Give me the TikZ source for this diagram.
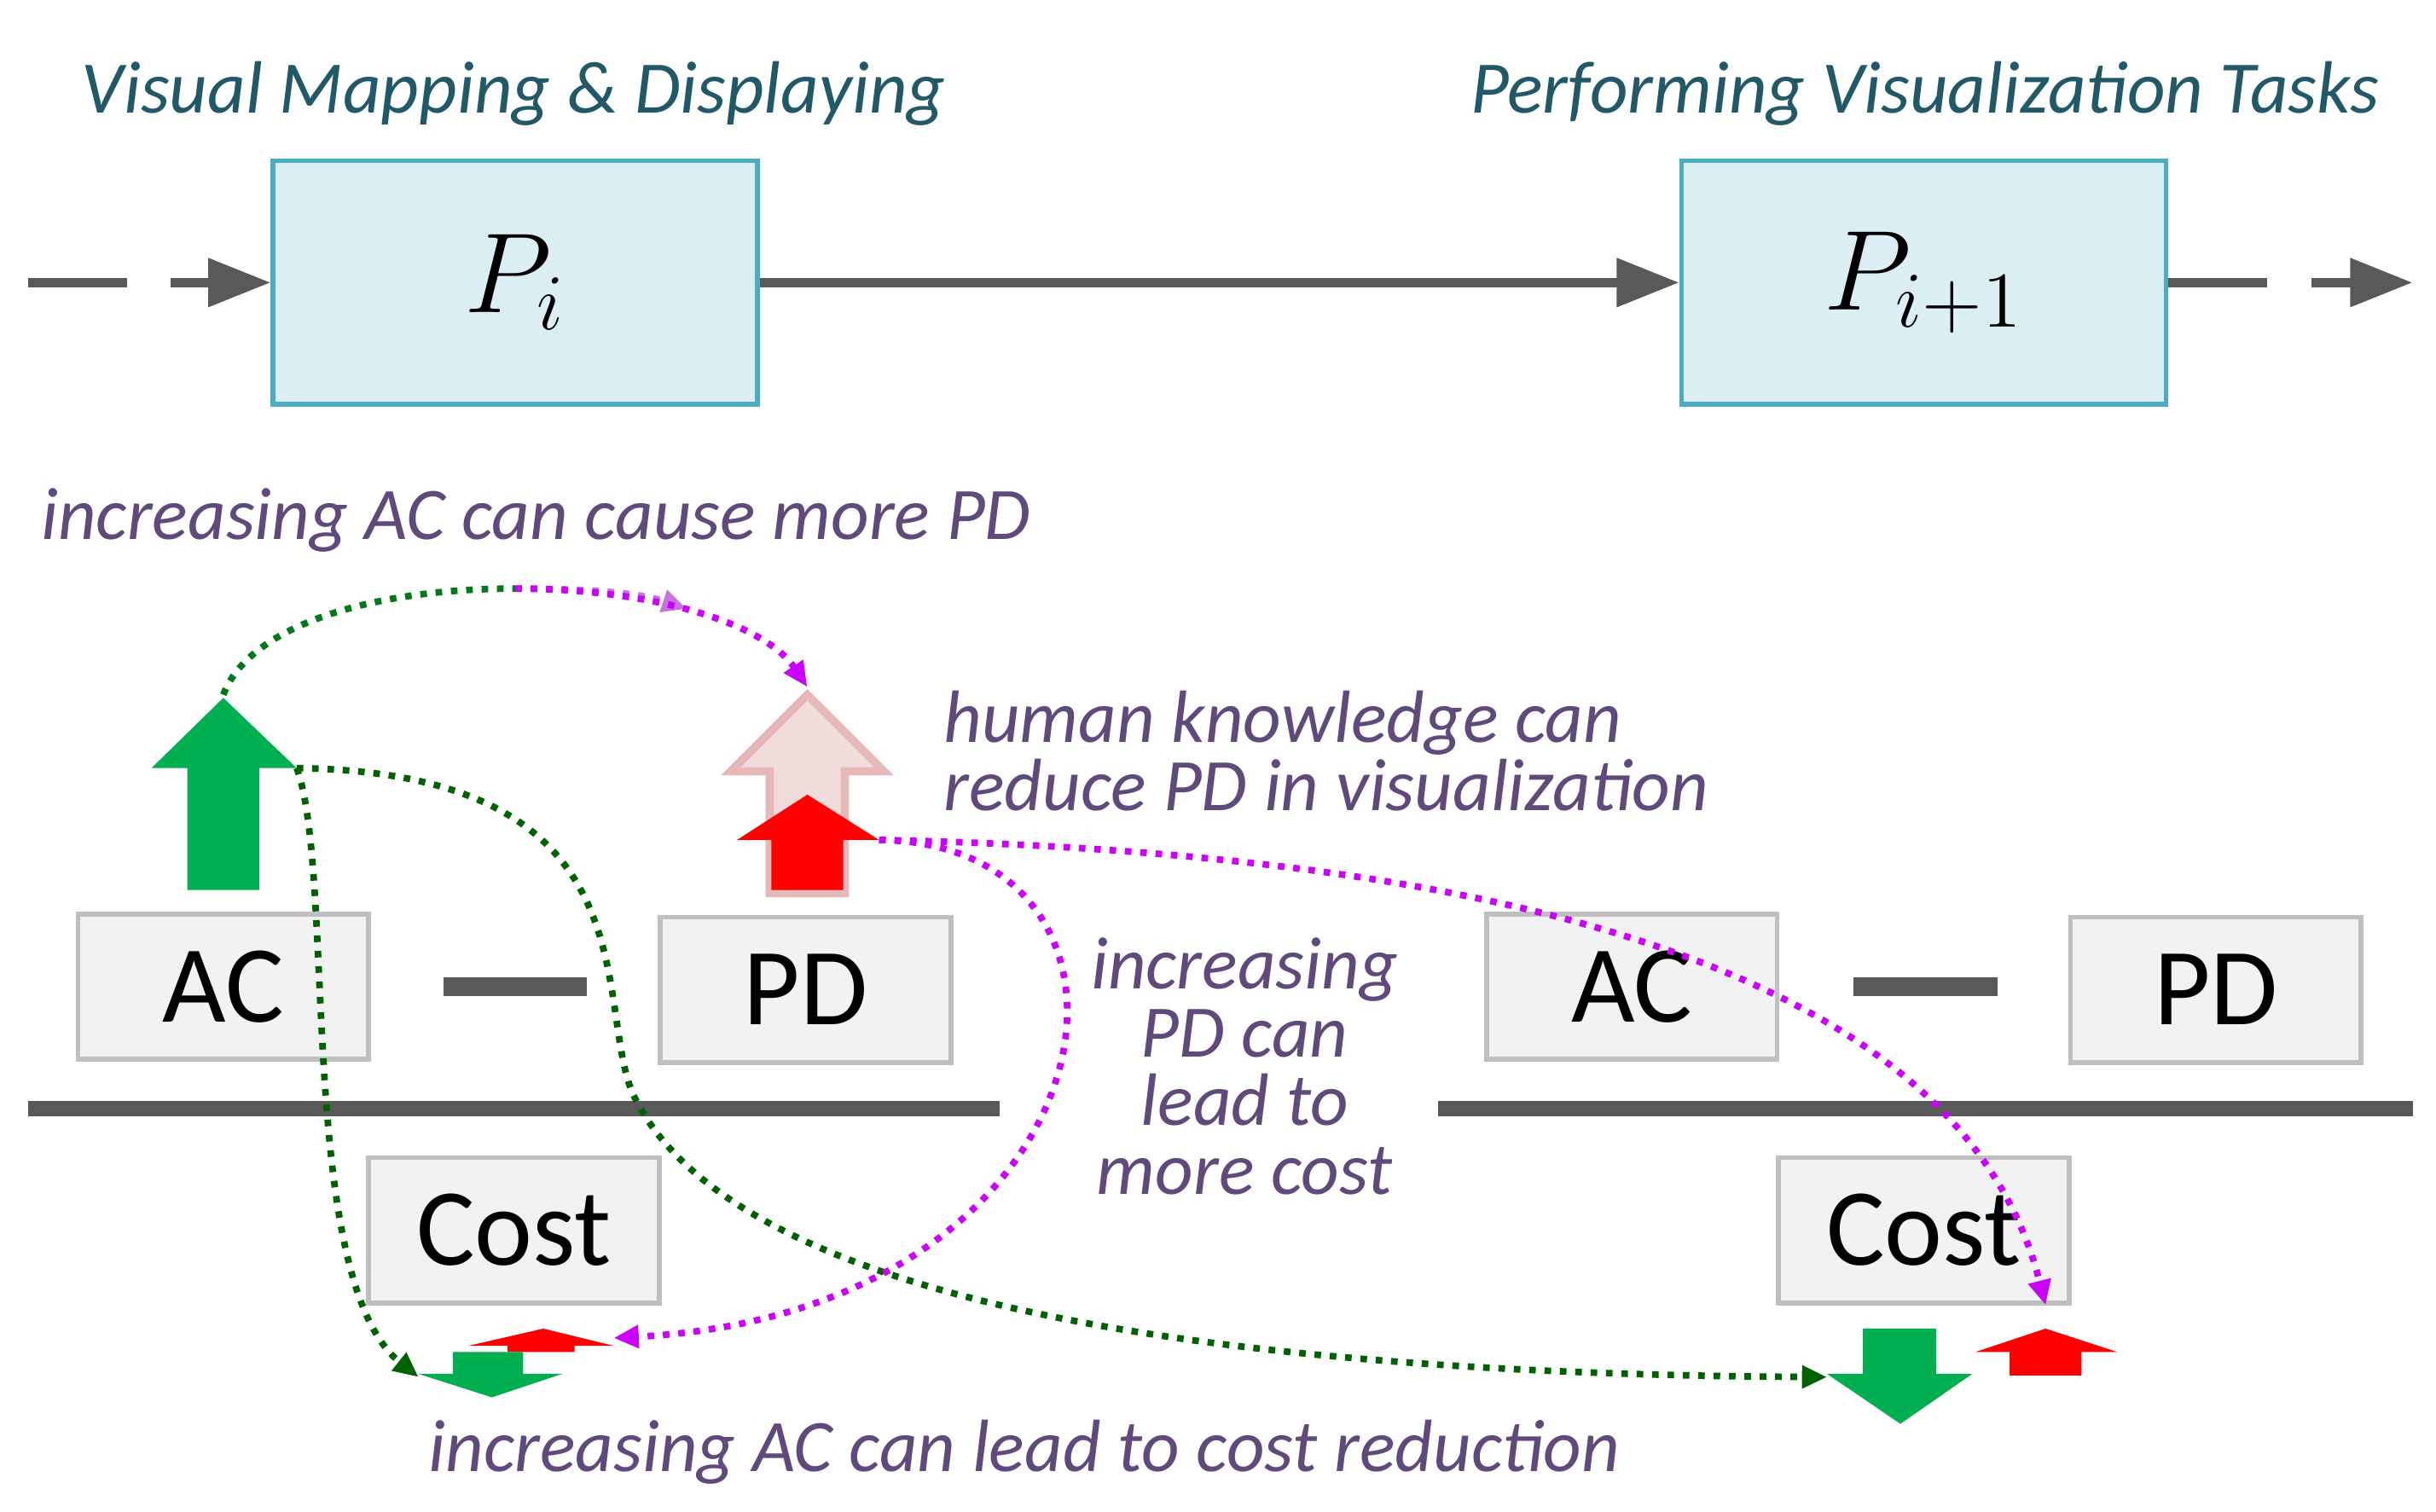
\documentclass[tikz,border=0pt]{standalone}
\usepackage{fontspec}
\setmainfont{Carlito}
\usetikzlibrary{positioning,arrows.meta}
\definecolor{tealtxt}{HTML}{215968}
\definecolor{purptxt}{HTML}{604A7B}
\definecolor{boxblue}{HTML}{DAEEF3}
\definecolor{edgeblue}{HTML}{4BACC6}
\definecolor{boxgray}{HTML}{F2F2F2}
\definecolor{edgegray}{HTML}{BFBFBF}
\definecolor{flowgray}{HTML}{595959}
\definecolor{acgreen}{HTML}{00B050}
\definecolor{darkgr}{HTML}{006100}
\definecolor{mag}{HTML}{CC00FF}
\definecolor{palered}{HTML}{F2DCDB}
\definecolor{paleedge}{HTML}{E6B9B8}
\tikzset{
  stage/.style={draw=edgeblue,fill=boxblue,line width=0.9pt,minimum width=3.1cm,minimum height=1.56cm,font=\fontsize{20}{20}\selectfont},
  quant/.style={draw=edgegray,fill=boxgray,line width=0.9pt,minimum width=1.86cm,minimum height=0.93cm,font=\fontsize{20}{20}\selectfont},
  flow/.style={flowgray,line width=1.7pt,-{Triangle[length=0.4cm,width=0.3cm]}},
  bar/.style={flowgray,line width=2.8pt},
  note/.style={font=\fontsize{13.5}{12.5}\selectfont\itshape,align=center},
  dots/.style={line width=1.2pt,dash pattern=on 1.2pt off 1.6pt},
  link/.style={dots,-{Triangle[length=0.16cm,width=0.14cm]}}
}
\begin{document}
\begin{tikzpicture}[x=0.01cm,y=-0.01cm]
\useasboundingbox (0,0) rectangle (1560,968);
%% headings
\node[note,text=tealtxt,anchor=west] (hmap) at (40,60) {Visual Mapping \& Displaying};
\node[note,text=tealtxt,anchor=east] (htask) at (1536,60) {Performing Visualization Tasks};
%% pipeline
\node[stage] (stPi) at (330,181) {$P_i$};
\node[stage] (stPj) at (1232,181) {$P_{i+1}$};
\coordinate (inL) at (18,181);
\coordinate (outR) at (1545,181);
\draw[flow,dash pattern=on 18pt off 8pt] (inL) -- (stPi);
\draw[flow] (stPi) -- (stPj);
\draw[flow,dash pattern=on 18pt off 8pt] (stPj) -- (outR);
%% quantities
\node[quant] (acA) at (143,632) {AC};
\node[quant] (pdA) at (516,634) {PD};
\node[quant] (costA) at (329,788) {Cost};
\node[quant] (acB) at (1045,632) {AC};
\node[quant] (pdB) at (1419,634) {PD};
\node[quant] (costB) at (1232,788) {Cost};
\draw[bar,line width=3.4pt] (284,632) -- (376,632);
\draw[bar,line width=3.4pt] (1187,632) -- (1279,632);
\draw[bar] (18,710) -- (640,710);
\draw[bar] (921,710) -- (1545,710);
%% block arrows
\fill[acgreen] (143,447) -- (190,492) -- (166,492) -- (166,570) -- (120,570) -- (120,492) -- (97,492) -- cycle;
\filldraw[fill=palered,draw=paleedge,line width=1.5pt] (517,445) -- (566,494) -- (541,494) -- (541,572) -- (493,572) -- (493,494) -- (468,494) -- cycle;
\fill[red] (517,509) -- (563,538) -- (540,538) -- (540,570) -- (494,570) -- (494,538) -- (472,538) -- cycle;
\fill[red] (348,851) -- (393,862) -- (368,862) -- (368,866) -- (325,866) -- (325,862) -- (300,862) -- cycle;
\fill[acgreen] (290,866) -- (335,866) -- (335,880) -- (360,880) -- (315,895) -- (268,880) -- (290,880) -- cycle;
\fill[acgreen] (1193,851) -- (1240,851) -- (1240,880) -- (1263,880) -- (1217,912) -- (1170,880) -- (1193,880) -- cycle;
\fill[red] (1310,851) -- (1356,866) -- (1333,866) -- (1333,881) -- (1287,881) -- (1287,866) -- (1265,866) -- cycle;
%% link ends
\coordinate (acTip) at (143,445);
\coordinate (acCorner) at (190,492);
\coordinate (pdTip) at (517,440);
\coordinate (pdCorner) at (563,538);
\coordinate (arcTop) at (330,377);
\coordinate (cutA) at (268,882);
\coordinate (cutB) at (1170,882);
\coordinate (riseA) at (393,857);
\coordinate (riseB) at (1310,836);
%% links
\draw[darkgr!70!acgreen,dots] (acTip) .. controls (160,400) and (240,377) .. (arcTop);
\draw[link,mag!80!darkgr!60!white] (arcTop) .. controls (380,377) and (410,380) .. (440,390);
\draw[link,mag] (arcTop) .. controls (420,377) and (490,400) .. (pdTip);
\draw[link,darkgr] (acCorner) .. controls (215,560) and (190,820) .. (cutA);
\draw[link,darkgr] (acCorner) .. controls (420,495) and (380,640) .. (405,700) .. controls (470,840) and (800,880) .. (cutB);
\draw[link,mag] (pdCorner) .. controls (760,540) and (720,840) .. (riseA);
\draw[link,mag] (pdCorner) .. controls (900,545) and (1250,600) .. (riseB);
%% notes
\node[note,text=purptxt,anchor=west] (nCause) at (14,333) {increasing AC can cause more PD};
\node[note,text=purptxt,anchor=north west,align=left] (nHuman) at (592,430) {human knowledge can\\reduce PD in visualization};
\node[note,text=purptxt,anchor=north] (nMore) at (797,588) {increasing\\PD can\\lead to\\more cost};
\node[note,text=purptxt] (nReduce) at (656,930) {increasing AC can lead to cost reduction};
\end{tikzpicture}
\end{document}
